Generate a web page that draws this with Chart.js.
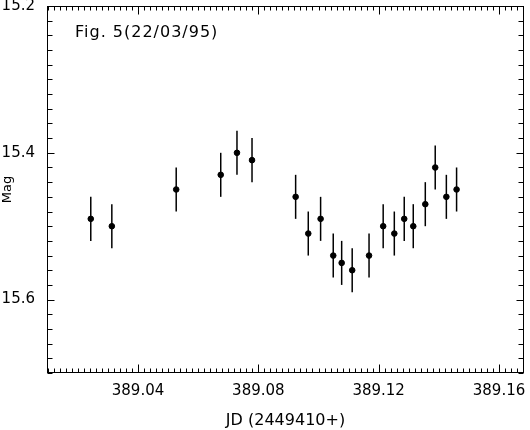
<!DOCTYPE html>
<html>
<head>
<meta charset="utf-8">
<script src="https://cdn.jsdelivr.net/npm/chart.js@4"></script>
<style>
  html, body { margin: 0; padding: 0; background: #fff; }
  #wrap { width: 530px; height: 430px; }
</style>
</head>
<body>
<div id="wrap"><canvas id="lc"></canvas></div>
<script>
// JD (2449410+) de cada medicion
const jdValues = [389.0243, 389.0313, 389.0527, 389.0675, 389.0729, 389.0779, 389.0924,
  389.0966, 389.1007, 389.1049, 389.1077, 389.1112, 389.1168, 389.1215, 389.1252,
  389.1285, 389.1315, 389.1355, 389.1388, 389.1425, 389.1459];
const magValues = [15.49, 15.50, 15.45, 15.43, 15.40, 15.41, 15.46,
  15.51, 15.49, 15.54, 15.55, 15.56, 15.54, 15.50, 15.51,
  15.49, 15.50, 15.47, 15.42, 15.46, 15.45];
const magErrors = [0.03, 0.03, 0.03, 0.03, 0.03, 0.03, 0.03,
  0.03, 0.03, 0.03, 0.03, 0.03, 0.03, 0.03, 0.03,
  0.03, 0.03, 0.03, 0.03, 0.03, 0.03];

const xTickLabels = [389.04, 389.08, 389.12, 389.16];
const yTickLabels = [15.2, 15.4, 15.6];
const xMinorStep = 0.002;
const yMinorStep = 0.02;
const figLabel = 'Fig. 5(22/03/95)';

const points = jdValues.map((x, i) => ({ x: x, y: magValues[i] }));

// barras de error verticales
const errorBars = {
  id: 'errorBars',
  beforeDatasetsDraw(chart) {
    const ctx = chart.ctx, xs = chart.scales.x, ys = chart.scales.y;
    ctx.save();
    ctx.strokeStyle = '#000';
    ctx.lineWidth = 1.5;
    jdValues.forEach((x, i) => {
      const px = xs.getPixelForValue(x);
      ctx.beginPath();
      ctx.moveTo(px, ys.getPixelForValue(magValues[i] - magErrors[i]));
      ctx.lineTo(px, ys.getPixelForValue(magValues[i] + magErrors[i]));
      ctx.stroke();
    });
    ctx.restore();
  }
};

// marco con ticks hacia adentro en los cuatro lados + rotulo de la figura
const frameTicks = {
  id: 'frameTicks',
  afterDraw(chart) {
    const ctx = chart.ctx, a = chart.chartArea, xs = chart.scales.x, ys = chart.scales.y;
    ctx.save();
    ctx.strokeStyle = '#000';
    ctx.lineWidth = 1;
    const L = Math.round(a.left) + 0.5, R = Math.round(a.right) - 0.5;
    const T = Math.round(a.top) + 0.5, B = Math.round(a.bottom) - 0.5;
    ctx.strokeRect(L, T, R - L, B - T);
    ctx.beginPath();
    const nx0 = Math.ceil(xs.min / xMinorStep - 1e-6), nx1 = Math.floor(xs.max / xMinorStep + 1e-6);
    for (let n = nx0; n <= nx1; n++) {
      const v = n * xMinorStep;
      const major = xTickLabels.some(t => Math.abs(t - v) < 1e-6);
      const len = major ? 8 : 4;
      const px = Math.round(xs.getPixelForValue(v)) + 0.5;
      ctx.moveTo(px, B); ctx.lineTo(px, B - len);
      ctx.moveTo(px, T); ctx.lineTo(px, T + len);
    }
    const ny0 = Math.ceil(ys.min / yMinorStep - 1e-6), ny1 = Math.floor(ys.max / yMinorStep + 1e-6);
    for (let n = ny0; n <= ny1; n++) {
      const v = n * yMinorStep;
      const major = yTickLabels.some(t => Math.abs(t - v) < 1e-6);
      const len = major ? 7 : 5;
      const py = Math.round(ys.getPixelForValue(v)) + 0.5;
      ctx.moveTo(L, py); ctx.lineTo(L + len, py);
      ctx.moveTo(R, py); ctx.lineTo(R - len, py);
    }
    ctx.stroke();

    ctx.fillStyle = '#000';
    ctx.font = '16px "DejaVu Sans"';
    ctx.letterSpacing = '1px';
    ctx.textBaseline = 'alphabetic';
    ctx.textAlign = 'left';
    ctx.fillText(figLabel, a.left + 28, a.top + 31);
    ctx.restore();
  }
};

const chart = new Chart(document.getElementById('lc'), {
  type: 'scatter',
  data: {
    datasets: [{
      data: points,
      backgroundColor: '#000',
      borderColor: '#000',
      pointRadius: 2.8,
      pointHoverRadius: 2.8,
      pointStyle: 'circle'
    }]
  },
  options: {
    responsive: true,
    maintainAspectRatio: false,
    animation: false,
    events: [],
    layout: { autoPadding: false, padding: { top: 6, right: 6, left: 0, bottom: 0 } },
    plugins: { legend: { display: false }, tooltip: { enabled: false } },
    scales: {
      x: {
        type: 'linear',
        min: 389.00975,
        max: 389.16831,
        grid: { display: false, drawTicks: false },
        border: { display: false },
        afterBuildTicks(s) { s.ticks = xTickLabels.map(v => ({ value: v })); },
        afterFit(s) {
          s.height = 57;
          s.paddingLeft = 0; s.paddingRight = 0;
        },
        ticks: {
          autoSkip: false,
          maxRotation: 0,
          padding: 9,
          color: '#000',
          font: { family: 'DejaVu Sans', size: 15 },
          callback: v => v.toFixed(2)
        },
        title: {
          display: true,
          text: 'JD (2449410+)',
          color: '#000',
          font: { family: 'DejaVu Sans', size: 16 },
          padding: { top: 10, bottom: 0 }
        }
      },
      y: {
        type: 'linear',
        reverse: true,
        min: 15.2,
        max: 15.7,
        grid: { display: false, drawTicks: false },
        border: { display: false },
        afterBuildTicks(s) { s.ticks = yTickLabels.map(v => ({ value: v })); },
        afterFit(s) {
          s.width = 47;
          s.paddingTop = 0; s.paddingBottom = 0;
        },
        ticks: {
          autoSkip: false,
          padding: 12,
          color: '#000',
          font: { family: 'DejaVu Sans', size: 15 },
          callback: v => v.toFixed(1)
        },
        title: {
          display: true,
          text: 'Mag',
          color: '#000',
          font: { family: 'DejaVu Sans', size: 13 },
          padding: 0
        }
      }
    }
  },
  plugins: [errorBars, frameTicks]
});
</script>
</body>
</html>
